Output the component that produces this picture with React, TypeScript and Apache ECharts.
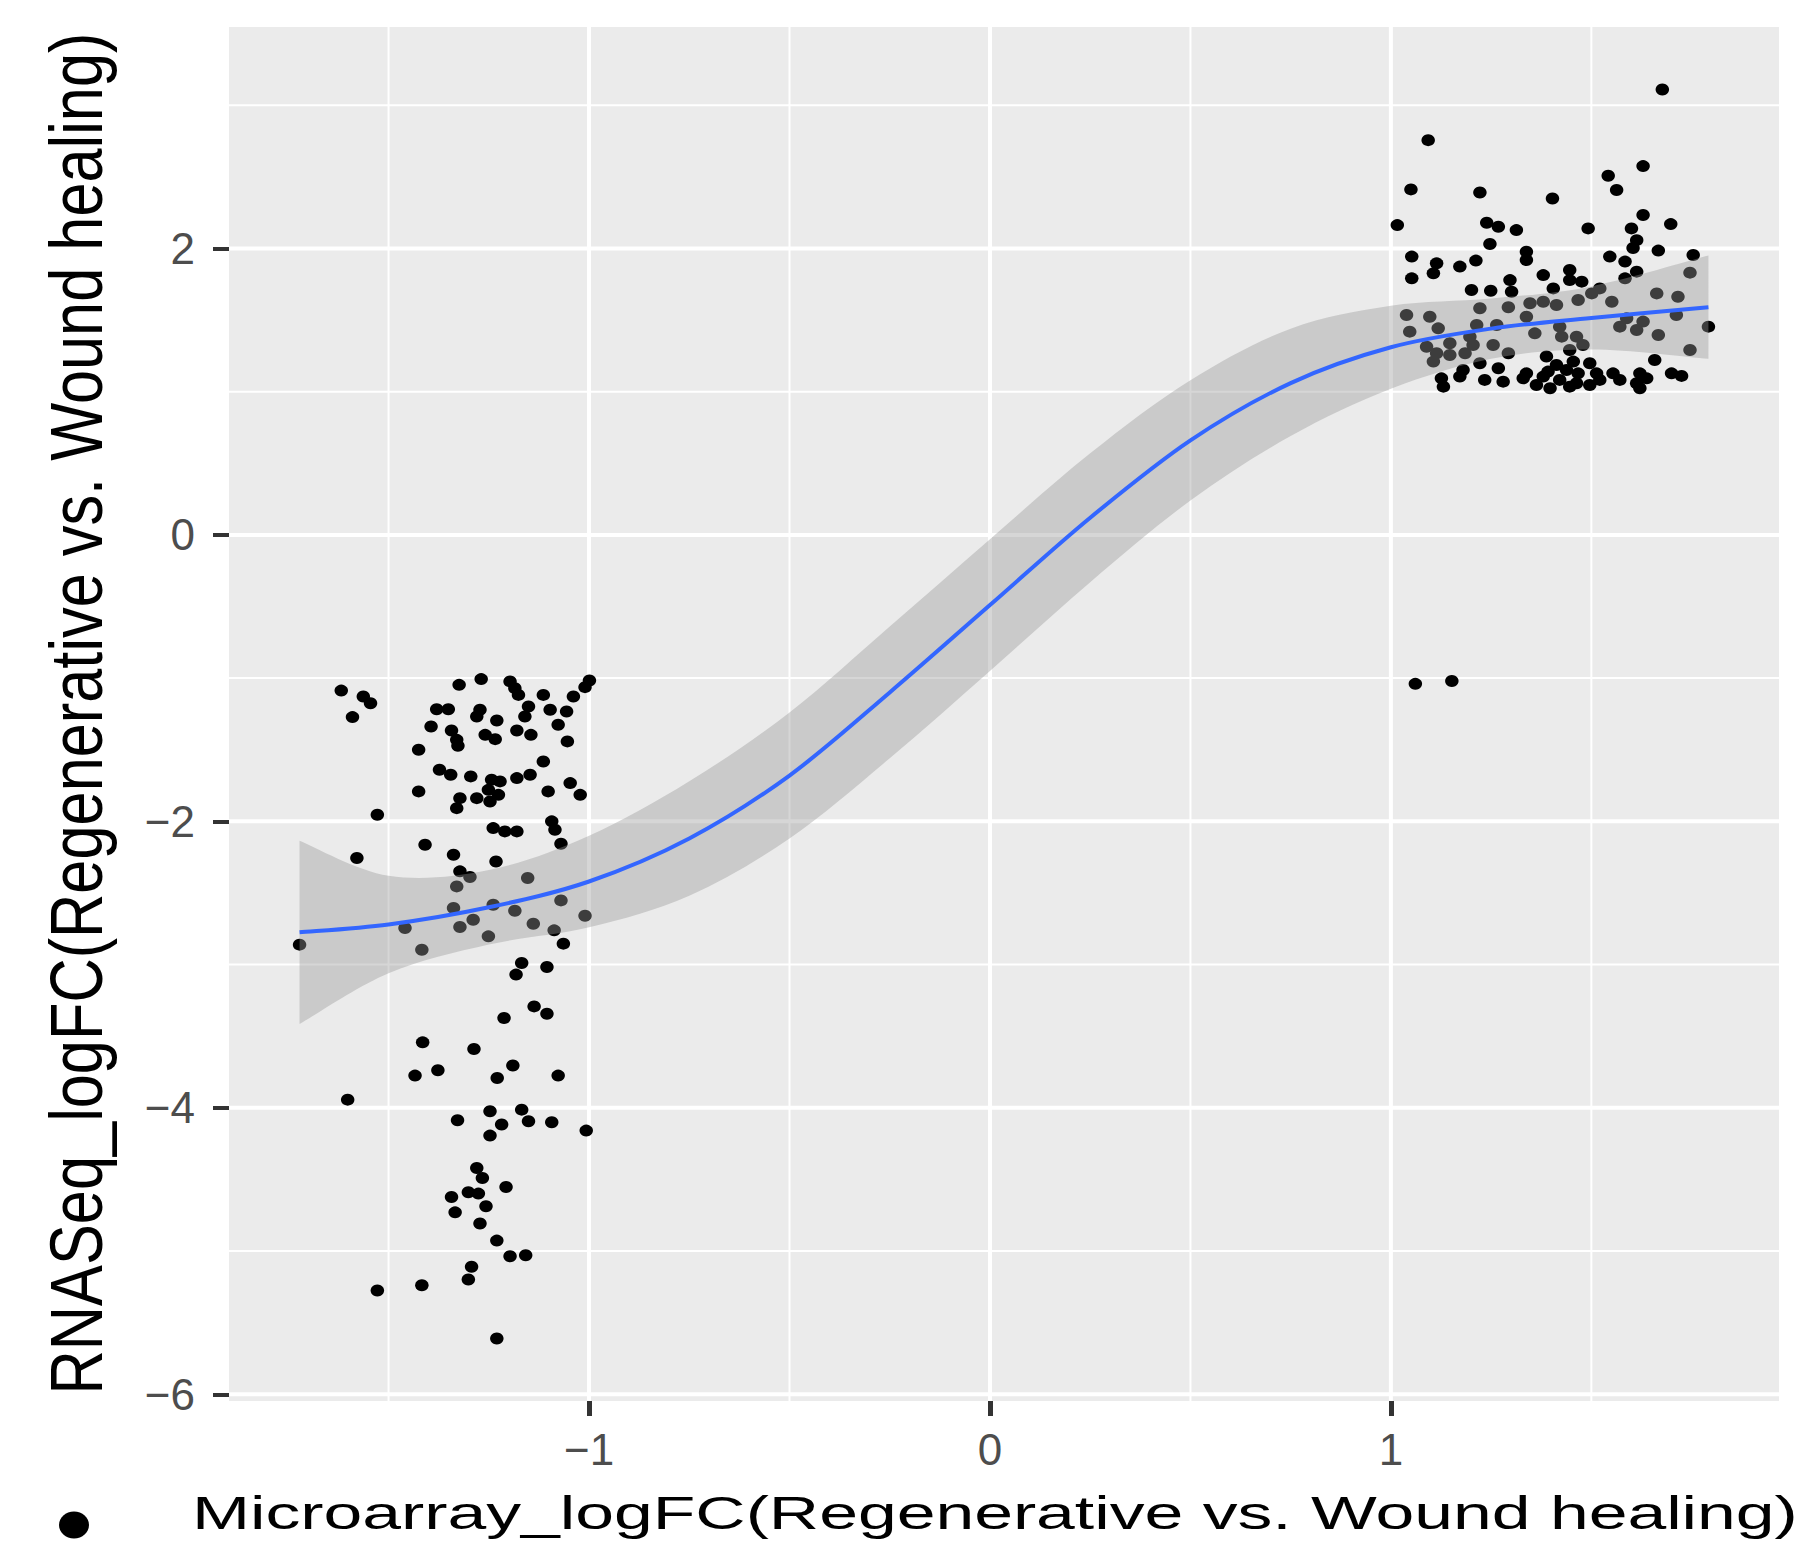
import React, { useEffect, useRef } from "react";
import * as echarts from "echarts";

// Genes down-regulated in both platforms (Microarray logFC, RNASeq logFC)
const downX = [
  -1.618, -1.563, -1.545, -1.59, -1.324, -1.269, -1.197, -1.185, -1.176, -1.114,
  -0.999, -1.01, -1.039, -1.38, -1.351, -1.272, -1.28, -1.23, -1.151, -1.16,
  -1.097, -1.056, -1.077, -1.394, -1.343, -1.33, -1.327, -1.259, -1.234, -1.18,
  -1.145, -1.054, -1.425, -1.114, -1.373, -1.345, -1.295, -1.243, -1.222, -1.18,
  -1.147, -1.425, -1.102, -1.047, -1.022, -1.251, -1.226, -1.247, -1.28, -1.322,
  -1.33, -1.528, -1.239, -1.21, -1.18, -1.093, -1.085, -1.579, -1.409, -1.338,
  -1.232, -1.07, -1.322, -1.297, -1.33, -1.153, -1.338, -1.239, -1.289, -1.322,
  -1.185, -1.07, -1.01, -1.139, -1.087, -1.064, -1.251, -1.459, -1.417, -1.722,
  -1.168, -1.182, -1.105, -1.137, -1.105, -1.212, -1.415, -1.287, -1.434, -1.377,
  -1.19, -1.229, -1.077, -1.602, -1.247, -1.168, -1.328, -1.218, -1.151, -1.093,
  -1.007, -1.247, -1.28, -1.266, -1.207, -1.343, -1.301, -1.276, -1.334, -1.257,
  -1.272, -1.23, -1.197, -1.158, -1.293, -1.301, -1.417, -1.528, -1.23,
];
const downY = [
  -1.087, -1.128, -1.175, -1.272, -1.047, -1.007, -1.023, -1.07, -1.117, -1.117,
  -1.017, -1.063, -1.128, -1.217, -1.217, -1.221, -1.268, -1.296, -1.198, -1.268,
  -1.221, -1.233, -1.326, -1.338, -1.366, -1.431, -1.473, -1.396, -1.426, -1.366,
  -1.396, -1.442, -1.5, -1.582, -1.64, -1.675, -1.686, -1.71, -1.721, -1.698,
  -1.675, -1.791, -1.791, -1.733, -1.815, -1.78, -1.815, -1.861, -1.838, -1.838,
  -1.908, -1.954, -2.047, -2.07, -2.07, -2.0, -2.059, -2.256, -2.163, -2.233,
  -2.28, -2.156, -2.349, -2.389, -2.454, -2.396, -2.605, -2.582, -2.687, -2.738,
  -2.624, -2.552, -2.659, -2.715, -2.761, -2.854, -2.803, -2.745, -2.896, -2.861,
  -2.989, -3.07, -3.017, -3.292, -3.343, -3.373, -3.543, -3.589, -3.775, -3.738,
  -3.705, -3.792, -3.775, -3.943, -4.024, -4.013, -4.087, -4.117, -4.094, -4.101,
  -4.159, -4.194, -4.42, -4.49, -4.553, -4.623, -4.59, -4.599, -4.73, -4.687,
  -4.808, -4.927, -5.036, -5.029, -5.11, -5.199, -5.239, -5.276, -5.611,
];

// Genes up-regulated on the microarray
const upX = [
  1.677, 1.093, 1.05, 1.222, 1.403, 1.542, 1.563, 1.629, 1.629, 1.698,
  1.016, 1.239, 1.268, 1.313, 1.492, 1.6, 1.613, 1.604, 1.247, 1.338,
  1.338, 1.052, 1.114, 1.106, 1.052, 1.172, 1.212, 1.546, 1.584, 1.667,
  1.754, 1.746, 1.613, 1.584, 1.38, 1.446, 1.446, 1.476, 1.297, 1.301,
  1.201, 1.249, 1.405, 1.521, 1.501, 1.663, 1.716, 1.222, 1.293, 1.347,
  1.38, 1.413, 1.467, 1.551, 1.039, 1.097, 1.047, 1.118, 1.214, 1.264,
  1.338, 1.359, 1.421, 1.426, 1.463, 1.588, 1.571, 1.613, 1.629, 1.712,
  1.667, 1.792, 1.746, 1.089, 1.114, 1.147, 1.185, 1.205, 1.255, 1.293,
  1.106, 1.388, 1.446, 1.479, 1.658, 1.222, 1.268, 1.18, 1.413, 1.455,
  1.496, 1.392, 1.438, 1.467, 1.554, 1.621, 1.7, 1.725, 1.126, 1.131,
  1.172, 1.234, 1.28, 1.33, 1.363, 1.397, 1.421, 1.463, 1.496, 1.521,
  1.571, 1.613, 1.638, 1.621, 1.338, 1.38, 1.446, 1.513, 1.147, 1.197,
  1.061, 1.152,
];
const upY = [
  3.11, 2.756, 2.412, 2.391, 2.349, 2.507, 2.408, 2.575, 2.233, 2.17,
  2.163, 2.179, 2.151, 2.128, 2.14, 2.14, 2.058, 2.003, 2.031, 1.977,
  1.919, 1.943, 1.896, 1.826, 1.791, 1.873, 1.915, 1.943, 1.908, 1.985,
  1.954, 1.831, 1.838, 1.791, 1.814, 1.849, 1.779, 1.768, 1.779, 1.698,
  1.71, 1.705, 1.721, 1.721, 1.686, 1.686, 1.663, 1.582, 1.589, 1.617,
  1.628, 1.605, 1.64, 1.628, 1.535, 1.523, 1.419, 1.442, 1.465, 1.465,
  1.523, 1.407, 1.454, 1.384, 1.384, 1.512, 1.454, 1.431, 1.489, 1.535,
  1.396, 1.454, 1.291, 1.314, 1.268, 1.256, 1.268, 1.326, 1.326, 1.268,
  1.21, 1.245, 1.291, 1.326, 1.221, 1.198, 1.163, 1.151, 1.186, 1.21,
  1.198, 1.14, 1.151, 1.128, 1.128, 1.128, 1.128, 1.11, 1.093, 1.035,
  1.105, 1.082, 1.07, 1.093, 1.047, 1.024, 1.082, 1.059, 1.047, 1.082,
  1.082, 1.059, 1.093, 1.024, 1.128, 1.105, 1.035, 1.128, 1.338, 1.384,
  -1.04, -1.02,
];

// Loess fit and its confidence band
const smoothX = [-1.722, -1.5, -1.25, -1.0, -0.75, -0.5, -0.25, 0, 0.25, 0.5, 0.75, 1.0, 1.25, 1.5, 1.792];
const smoothY = [-2.775, -2.72, -2.6, -2.42, -2.12, -1.68, -1.1, -0.49, 0.12, 0.66, 1.06, 1.31, 1.44, 1.515, 1.59];
const bandLower = [-3.415, -3.06, -2.86, -2.74, -2.52, -2.12, -1.56, -0.95, -0.33, 0.24, 0.69, 1.02, 1.23, 1.295, 1.23];
const bandUpper = [-2.135, -2.38, -2.34, -2.1, -1.72, -1.24, -0.64, -0.03, 0.57, 1.08, 1.44, 1.6, 1.65, 1.735, 1.95];

const xTicks = [-1, 0, 1];
const yTicks = [-6, -4, -2, 0, 2];
const xMinor = [-1.5, -0.5, 0.5, 1.5];
const yMinor = [-5, -3, -1, 1, 3];
const xRange = [-1.898, 1.968];
const yRange = [-6.047, 3.546];

const xTitle = "Microarray_logFC(Regenerative vs. Wound healing)";
const yTitle = "RNASeq_logFC(Regenerative vs. Wound healing)";

const FONT = '"Liberation Sans", Arial, Helvetica, sans-serif';
const fmt = (v: number) => (v < 0 ? "\u2212" + Math.abs(v) : String(v));

// Catmull-Rom spline through pixel points, as SVG cubic segments
function splineSegments(pts: number[][]): string {
  let d = "";
  for (let i = 0; i < pts.length - 1; i++) {
    const p0 = pts[Math.max(i - 1, 0)];
    const p1 = pts[i];
    const p2 = pts[i + 1];
    const p3 = pts[Math.min(i + 2, pts.length - 1)];
    const c1 = [p1[0] + (p2[0] - p0[0]) / 6, p1[1] + (p2[1] - p0[1]) / 6];
    const c2 = [p2[0] - (p3[0] - p1[0]) / 6, p2[1] - (p3[1] - p1[1]) / 6];
    d += ` C ${c1[0]} ${c1[1]} ${c2[0]} ${c2[1]} ${p2[0]} ${p2[1]}`;
  }
  return d;
}

export default function App() {
  const ref = useRef<HTMLDivElement>(null);

  useEffect(() => {
    document.body.style.margin = "0";
    const chart = echarts.init(ref.current as HTMLDivElement, null, { renderer: "svg" });

    const pairs = (xs: number[], ys: number[]) => xs.map((x, i) => [x, ys[i]]);
    // [value, isVertical, isMajor]
    const gridLines = [
      ...xTicks.map((v) => [v, 1, 1]),
      ...xMinor.map((v) => [v, 1, 0]),
      ...yTicks.map((v) => [v, 0, 1]),
      ...yMinor.map((v) => [v, 0, 0]),
    ];

    const axisCommon = {
      type: "value",
      axisLine: { show: false, onZero: false },
      splitLine: { show: false },
    };

    chart.setOption({
      animation: false,
      backgroundColor: "#FFFFFF",
      textStyle: { fontFamily: FONT },
      grid: {
        left: 229,
        right: 34,
        top: 27,
        bottom: 155,
        show: true,
        backgroundColor: "#EBEBEB",
        borderWidth: 0,
        containLabel: false,
        outerBoundsMode: "none",
      },
      xAxis: {
        ...axisCommon,
        min: xRange[0],
        max: xRange[1],
        axisTick: {
          show: true,
          customValues: xTicks,
          length: 15,
          lineStyle: { color: "#333333", width: 5 },
        },
        axisLabel: {
          customValues: xTicks,
          formatter: fmt,
          fontSize: 44,
          color: "#4D4D4D",
          margin: 26,
          fontFamily: FONT,
        },
      },
      yAxis: {
        ...axisCommon,
        min: yRange[0],
        max: yRange[1],
        axisTick: {
          show: true,
          customValues: yTicks,
          length: 16,
          lineStyle: { color: "#333333", width: 4 },
        },
        axisLabel: {
          customValues: yTicks,
          formatter: fmt,
          fontSize: 44,
          color: "#4D4D4D",
          margin: 34,
          fontFamily: FONT,
        },
      },
      series: [
        {
          type: "custom",
          z: 1,
          silent: true,
          data: gridLines,
          renderItem: (params: any, api: any) => {
            const v = api.value(0);
            const vertical = api.value(1) === 1;
            const major = api.value(2) === 1;
            const cs = params.coordSys;
            const p = api.coord([v, v]);
            const shape = vertical
              ? { x1: p[0], y1: cs.y, x2: p[0], y2: cs.y + cs.height }
              : { x1: cs.x, y1: p[1], x2: cs.x + cs.width, y2: p[1] };
            return {
              type: "line",
              shape,
              style: { stroke: "#FFFFFF", lineWidth: major ? 4 : 2 },
            };
          },
        },
        {
          type: "scatter",
          z: 2,
          data: pairs(downX, downY),
          symbol: "circle",
          symbolSize: [13.5, 12],
          itemStyle: { color: "#000000", opacity: 1 },
        },
        {
          type: "scatter",
          z: 2,
          data: pairs(upX, upY),
          symbol: "circle",
          symbolSize: [13.5, 12],
          itemStyle: { color: "#000000", opacity: 1 },
        },
        {
          // confidence band, drawn over the points like a translucent ribbon
          type: "custom",
          z: 3,
          silent: true,
          data: [[smoothX[0], smoothY[0]]],
          renderItem: (_params: any, api: any) => {
            const upper = smoothX.map((x, i) => api.coord([x, bandUpper[i]]));
            const lower = smoothX.map((x, i) => api.coord([x, bandLower[i]])).reverse();
            const d =
              `M ${upper[0][0]} ${upper[0][1]}` +
              splineSegments(upper) +
              ` L ${lower[0][0]} ${lower[0][1]}` +
              splineSegments(lower) +
              " Z";
            return {
              type: "path",
              shape: { pathData: d },
              style: { fill: "rgba(153,153,153,0.4)", stroke: "none" },
            };
          },
        },
        {
          // fitted loess curve
          type: "custom",
          z: 4,
          silent: true,
          data: [[smoothX[0], smoothY[0]]],
          renderItem: (_params: any, api: any) => {
            const pts = smoothX.map((x, i) => api.coord([x, smoothY[i]]));
            const d = `M ${pts[0][0]} ${pts[0][1]}` + splineSegments(pts);
            return {
              type: "path",
              shape: { pathData: d },
              style: { fill: "none", stroke: "#3366FF", lineWidth: 4 },
            };
          },
        },
      ],
      graphic: [
        {
          type: "text",
          x: 76,
          y: 713.5,
          rotation: Math.PI / 2,
          scaleX: 1.179,
          scaleY: 1.42,
          style: {
            text: yTitle,
            fontSize: 52,
            fontFamily: FONT,
            fill: "#000000",
            align: "center",
            verticalAlign: "middle",
            textAlign: "center",
            textVerticalAlign: "middle",
          },
        },
        {
          type: "text",
          x: 192,
          y: 1513.5,
          scaleX: 1.515,
          scaleY: 1,
          style: {
            text: xTitle,
            fontSize: 46,
            fontFamily: FONT,
            fill: "#000000",
            align: "left",
            verticalAlign: "middle",
            textAlign: "left",
            textVerticalAlign: "middle",
          },
        },
        {
          type: "ellipse",
          shape: { cx: 74, cy: 1525, rx: 15, ry: 13.5 },
          style: { fill: "#000000" },
        },
      ],
    });

    return () => chart.dispose();
  }, []);

  return <div ref={ref} style={{ width: 1813, height: 1556 }} />;
}
